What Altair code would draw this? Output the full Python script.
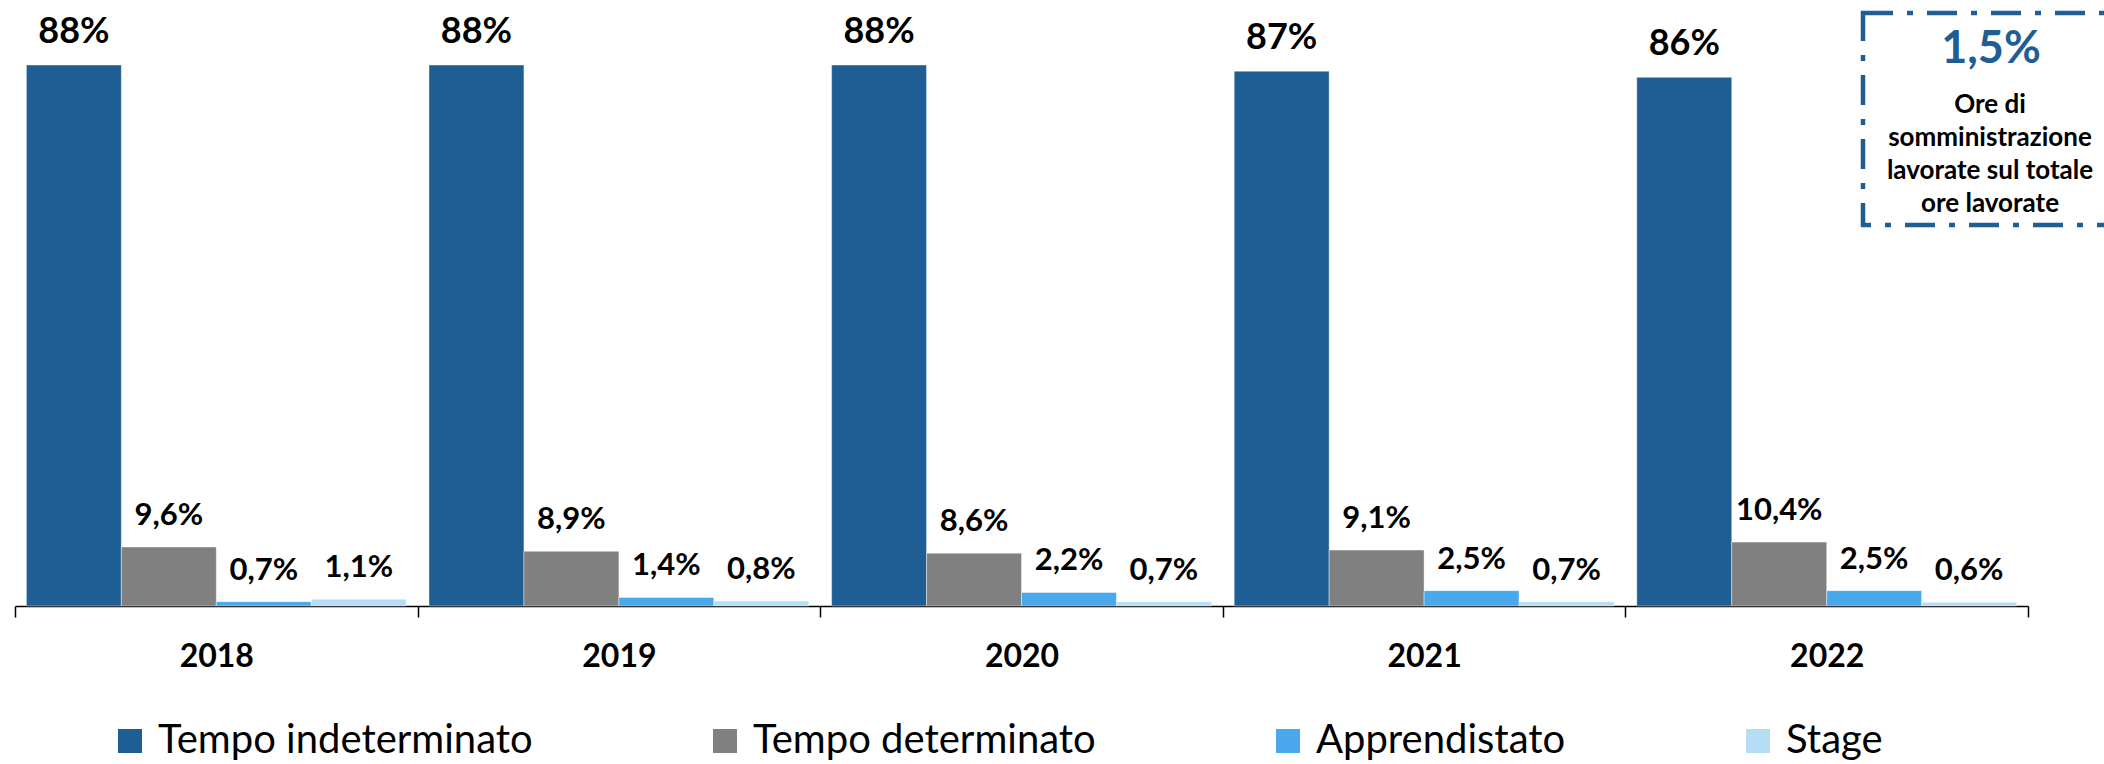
import altair as alt
import pandas as pd

# Quote percentuali per tipologia contrattuale, per anno
anni = ["2018", "2019", "2020", "2021", "2022"]
tipologie = ["Tempo indeterminato", "Tempo determinato", "Apprendistato", "Stage"]
tempo_indeterminato = [88, 88, 88, 87, 86]
tempo_determinato = [9.6, 8.9, 8.6, 9.1, 10.4]
apprendistato = [0.7, 1.4, 2.2, 2.5, 2.5]
stage = [1.1, 0.8, 0.7, 0.7, 0.6]
colori = ["#1F5E95", "#808080", "#4AA8EC", "#B5DDF6"]

# Riquadro di sintesi
quota_somministrazione = "1,5%"
descrizione = ["Ore di", "somministrazione", "lavorate sul totale", "ore lavorate"]
blu = "#1F5E95"


def etichetta(v):
    if float(v).is_integer():
        return f"{int(v)}%"
    return f"{v:.1f}%".replace(".", ",")


righe = []
for i, anno in enumerate(anni):
    for k, (tipo, serie) in enumerate(zip(tipologie, [tempo_indeterminato, tempo_determinato, apprendistato, stage])):
        righe.append({
            "anno": anno,
            "tipo": tipo,
            "valore": serie[i],
            "etichetta": etichetta(serie[i]),
            "fs": 36 if k == 0 else 31,
        })
df = pd.DataFrame(righe)

x = alt.X(
    "anno:N",
    sort=anni,
    scale=alt.Scale(paddingInner=0, paddingOuter=0),
    axis=alt.Axis(
        title=None, labelAngle=0, tickBand="extent", grid=False,
        domainColor="black", domainWidth=1.5, tickColor="black", tickWidth=1.5, tickSize=11,
        labelFont="Lato", labelFontSize=32, labelFontWeight="bold", labelColor="black",
        labelPadding=24,
    ),
)
x_off = alt.XOffset("tipo:N", sort=tipologie, scale=alt.Scale(paddingInner=0, paddingOuter=0.12))
y = alt.Y("valore:Q", scale=alt.Scale(domain=[0, 97.6], nice=False, zero=True), axis=None)

base = alt.Chart(df)

barre = base.mark_bar(stroke="white", strokeWidth=0.6, strokeOpacity=0.7).encode(
    x=x,
    xOffset=x_off,
    y=y,
    color=alt.Color(
        "tipo:N",
        sort=tipologie,
        scale=alt.Scale(domain=tipologie, range=colori),
        legend=alt.Legend(
            title=None, orient="none", legendX=95, legendY=715, direction="horizontal",
            symbolType="square", symbolSize=576, symbolStrokeWidth=0, symbolOpacity=1,
            labelFont="Lato", labelFontSize=40, labelColor="black", labelOffset=8,
            columnPadding=172, padding=0, labelLimit=800,
        ),
    ),
)

valori = base.mark_text(
    dy=-22, baseline="alphabetic", font="Lato", fontWeight="bold", color="black"
).encode(
    x=x,
    xOffset=x_off,
    y=y,
    text="etichetta:N",
    size=alt.Size("fs:Q", scale=None, legend=None),
)

uno = alt.Chart(pd.DataFrame({"k": [0]}))

riquadro = uno.mark_rect(
    fill=None, stroke=blu, strokeWidth=4.5, strokeDash=[30, 14, 6, 14]
).encode(
    x=alt.value(1848), x2=alt.value(2130), y=alt.value(7), y2=alt.value(219)
)

quota = uno.mark_text(
    font="Lato", fontWeight="bold", fontSize=45, color=blu, align="center", baseline="alphabetic"
).encode(x=alt.value(1976), y=alt.value(57), text=alt.value(quota_somministrazione))

testo = uno.mark_text(
    font="Lato", fontWeight="bold", fontSize=26, color="black", align="center",
    baseline="alphabetic", lineHeight=33,
).encode(x=alt.value(1975), y=alt.value(107), text=alt.value(descrizione))

chart = (
    alt.layer(barre, valori, riquadro, quota, testo)
    .properties(
        width=2013,
        height=600,
        autosize=alt.AutoSizeParams(type="none"),
        padding={"left": 15, "top": 6, "right": 76, "bottom": 158},
        background="white",
    )
    .configure_view(stroke=None)
)

chart.save("out.html", embed_options={"renderer": "svg", "actions": False})
